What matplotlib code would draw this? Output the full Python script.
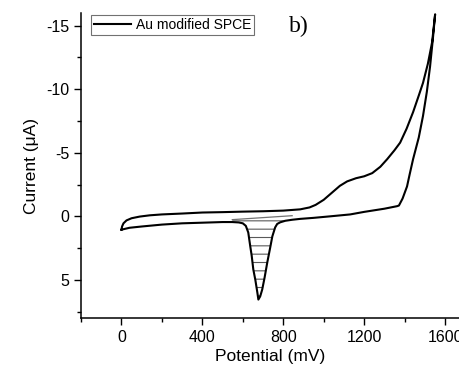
"""
Cyclic voltammogram of the Au modified SPCE, panel b).
Output: out.png
"""
import numpy as np
import matplotlib
matplotlib.use("Agg")
import matplotlib.pyplot as plt

# forward (anodic) scan, potential in mV, current in uA
POT_FWD = [0, 3, 10, 25, 50, 90, 140, 200, 300, 400, 500, 600, 700, 800, 884,
           930, 960, 1000, 1040, 1080, 1116, 1160, 1200, 1240, 1280, 1314,
           1350, 1378, 1410, 1442, 1470, 1491, 1515, 1536, 1551]
CUR_FWD = [1.05, 0.8, 0.55, 0.32, 0.15, 0.02, -0.08, -0.15, -0.22, -0.3, -0.33,
           -0.37, -0.4, -0.45, -0.55, -0.7, -0.9, -1.3, -1.85, -2.4, -2.75,
           -3.0, -3.15, -3.4, -3.9, -4.5, -5.2, -5.8, -6.9, -8.2, -9.5, -10.5,
           -12.0, -13.7, -15.9]

# reverse (cathodic) scan
POT_REV = [1551, 1540, 1526, 1510, 1491, 1470, 1442, 1425, 1412, 1390, 1372,
           1363, 1300, 1200, 1131, 1032, 950, 884, 844, 810, 785, 770, 760,
           746, 735, 721, 708, 696, 686, 677, 672, 662, 652, 644, 637, 627,
           615, 600, 580, 548, 500, 400, 300, 200, 100, 40, 0]
CUR_REV = [-15.9, -14.0, -11.8, -9.8, -7.9, -6.2, -4.5, -3.3, -2.35, -1.4,
           -0.85, -0.8, -0.6, -0.35, -0.15, 0.0, 0.12, 0.2, 0.27, 0.35, 0.47,
           0.6, 0.87, 1.58, 2.5, 3.63, 4.8, 5.76, 6.3, 6.55, 6.0, 5.0, 4.18,
           3.1, 2.37, 1.27, 0.75, 0.55, 0.48, 0.45, 0.45, 0.5, 0.55, 0.65,
           0.8, 0.9, 1.05]

# baseline used for the integrated reduction peak
BASE_POT = [548, 844]
BASE_CUR = [0.26, -0.05]

plt.rcParams["font.family"] = ["Liberation Sans", "DejaVu Sans"]
plt.rcParams["axes.unicode_minus"] = False
plt.rcParams["hatch.linewidth"] = 0.8

fig = plt.figure(figsize=(4.59, 3.72), dpi=100)
ax = fig.add_axes([81 / 459, 1 - 318 / 372, 1 - 81 / 459, 305 / 372])

pot = POT_FWD + POT_REV[1:]
cur = CUR_FWD + CUR_REV[1:]
ax.plot(pot, cur, color="black", linewidth=1.5, label="Au modified SPCE")

# hatched area between the baseline and the peak
pr = np.array(POT_REV)
cr = np.array(CUR_REV)
m = (pr >= BASE_POT[0]) & (pr <= BASE_POT[1])
base = np.interp(pr[m], BASE_POT, BASE_CUR)
ax.fill_between(pr[m], base, cr[m], facecolor="none", edgecolor="0.35",
                hatch="--", linewidth=0)
ax.plot(BASE_POT, BASE_CUR, color="0.45", linewidth=0.9)

ax.set_xlim(-200, 1669)
ax.set_ylim(8, -16)
ax.set_xticks([0, 400, 800, 1200, 1600])
ax.set_xticks(np.arange(-200, 1700, 200), minor=True)
ax.set_yticks([-15, -10, -5, 0, 5])
ax.set_yticks(np.arange(7.5, -16, -2.5), minor=True)
ax.tick_params(which="major", direction="out", length=5, width=1,
               labelsize=11.5)
ax.tick_params(which="minor", direction="out", length=3, width=1)
for s in ["top", "right"]:
    ax.spines[s].set_visible(False)
for s in ["left", "bottom"]:
    ax.spines[s].set_linewidth(1.1)

ax.set_xlabel("Potential (mV)", fontsize=12.5, labelpad=3)
ax.set_ylabel("Current (\u03bcA)", fontsize=12.5, labelpad=5)

leg = ax.legend(loc="upper left", bbox_to_anchor=(0.027, 0.993),
                fontsize=10, frameon=True, fancybox=False,
                handlelength=2.7, borderpad=0.2, handletextpad=0.35,
                borderaxespad=0)
leg.get_frame().set_edgecolor("0.3")
leg.get_frame().set_linewidth(0.8)

ax.text(0.577, 0.955, "b)", transform=ax.transAxes, fontsize=17,
        family="Liberation Serif", ha="center", va="center")

fig.savefig("out.png", dpi=100)
